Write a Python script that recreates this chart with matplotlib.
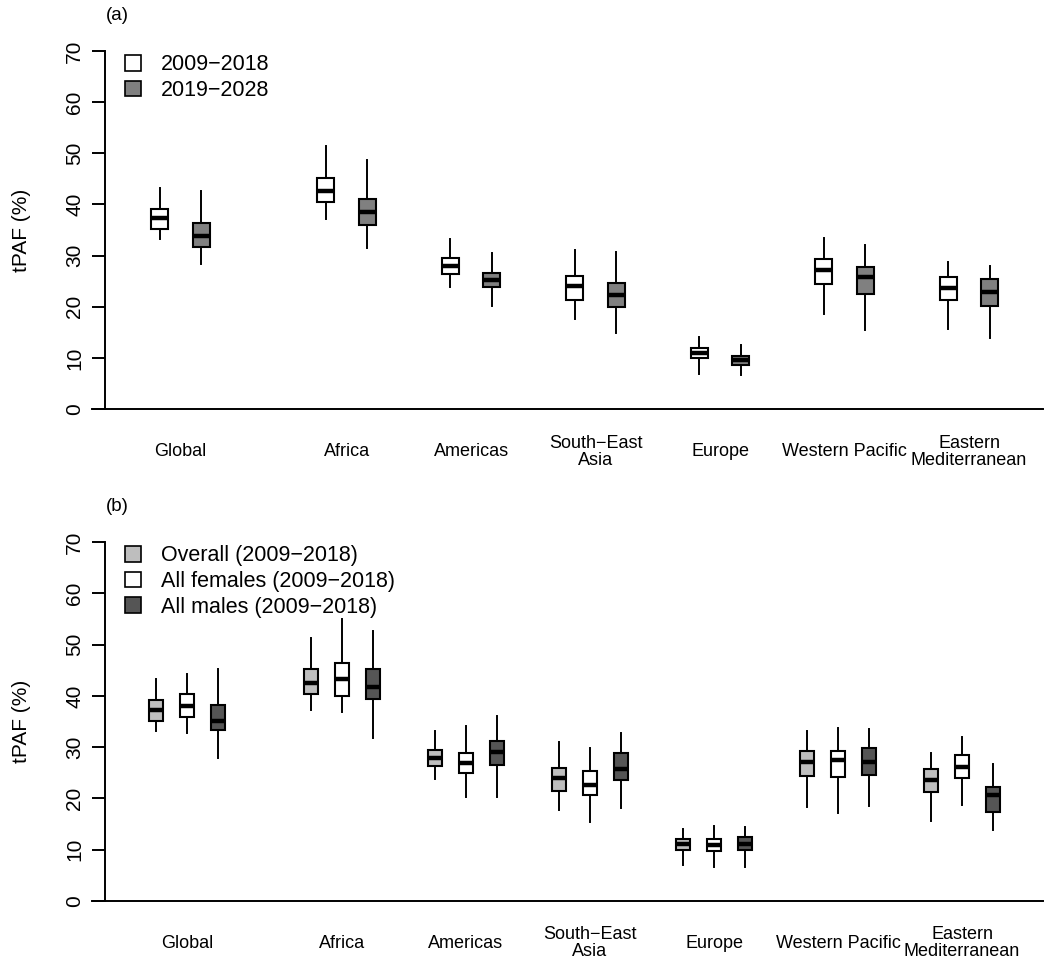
import matplotlib
matplotlib.use("Agg")
import matplotlib.pyplot as plt
from matplotlib.patches import Patch

plt.rcParams['font.family'] = ['Liberation Sans', 'DejaVu Sans']

regions = ["Global", "Africa", "Americas", "South\u2212East\nAsia", "Europe",
           "Western Pacific", "Eastern\nMediterranean"]

# panel (a): whisker low, q1, median, q3, whisker high
a_lo_2009 = [33.3, 37.2, 23.9, 17.6, 6.8, 18.6, 15.6]
a_q1_2009 = [35.2, 40.5, 26.4, 21.3, 10.0, 24.4, 21.3]
a_md_2009 = [37.3, 42.6, 28.0, 24.0, 11.0, 27.2, 23.6]
a_q3_2009 = [39.1, 45.2, 29.5, 26.0, 11.9, 29.3, 25.9]
a_hi_2009 = [43.2, 51.4, 33.2, 31.1, 14.1, 33.4, 28.8]

a_lo_2019 = [28.4, 31.5, 20.1, 14.9, 6.6, 15.4, 13.9]
a_q1_2019 = [31.7, 36.0, 23.9, 19.9, 8.6, 22.5, 20.1]
a_md_2019 = [33.8, 38.5, 25.2, 22.3, 9.6, 25.8, 22.9]
a_q3_2019 = [36.4, 41.1, 26.6, 24.6, 10.4, 27.8, 25.4]
a_hi_2019 = [42.6, 48.7, 30.5, 30.7, 12.5, 32.1, 28.0]

# panel (b)
b_lo_all = [33.2, 37.2, 23.8, 17.7, 7.0, 18.4, 15.7]
b_q1_all = [35.1, 40.4, 26.3, 21.5, 10.0, 24.4, 21.3]
b_md_all = [37.3, 42.6, 27.9, 23.9, 11.1, 27.2, 23.6]
b_q3_all = [39.2, 45.2, 29.5, 26.0, 12.1, 29.2, 25.8]
b_hi_all = [43.3, 51.2, 33.2, 31.1, 14.0, 33.2, 28.9]

b_lo_fem = [32.7, 36.8, 20.2, 15.5, 6.6, 17.1, 18.8]
b_q1_fem = [35.8, 40.0, 24.9, 20.7, 9.7, 24.2, 24.0]
b_md_fem = [38.1, 43.2, 26.9, 22.7, 11.0, 27.5, 26.1]
b_q3_fem = [40.4, 46.5, 28.8, 25.4, 12.1, 29.3, 28.4]
b_hi_fem = [44.2, 54.9, 34.2, 29.8, 14.7, 33.8, 32.0]

b_lo_mal = [27.8, 31.7, 20.2, 18.1, 6.7, 18.6, 13.8]
b_q1_mal = [33.3, 39.4, 26.5, 23.6, 10.0, 24.5, 17.4]
b_md_mal = [35.1, 41.8, 29.0, 25.8, 11.2, 27.2, 20.7]
b_q3_mal = [38.2, 45.2, 31.2, 28.8, 12.4, 29.8, 22.2]
b_hi_mal = [45.2, 52.7, 36.1, 32.7, 14.4, 33.6, 26.8]


def make_stats(lo, q1, md, q3, hi):
    return [dict(whislo=l, q1=a, med=m, q3=b, whishi=h)
            for l, a, m, b, h in zip(lo, q1, md, q3, hi)]


def style_axis(ax, letter):
    for s in ["top", "right", "bottom"]:
        ax.spines[s].set_visible(False)
    ax.spines["left"].set_bounds(0, 70)
    ax.spines["left"].set_linewidth(1.4)
    ax.set_ylim(0, 70)
    ax.set_yticks(range(0, 71, 10))
    ax.tick_params(axis="y", length=9.5, width=1.4, labelsize=15, pad=5.5)
    for lab in ax.get_yticklabels():
        lab.set_rotation(90)
        lab.set_va("center")
    ax.set_xticks([])
    ax.set_ylabel("tPAF (%)", fontsize=15)
    ax.yaxis.set_label_coords(-0.079, 0.5)
    ax.plot([-0.014, 1], [0, 0], color="black", lw=1.4,
            transform=ax.get_yaxis_transform(), clip_on=False)
    ax.text(0.013, 1.1, letter, transform=ax.transAxes, fontsize=13.5,
            ha="center", va="center")


def draw(ax, stats, pos, color, width):
    ax.bxp(stats, positions=pos, widths=width, showcaps=False, showfliers=False,
           patch_artist=True,
           boxprops=dict(facecolor=color, edgecolor="black", linewidth=1.5),
           whiskerprops=dict(color="black", linewidth=1.4),
           medianprops=dict(color="black", linewidth=3.2, solid_capstyle="butt"))


fig = plt.figure(figsize=(10.5, 9.65), dpi=100)

# ---- panel (a)
ax1 = fig.add_axes([0.1, 0.5762, 0.8933, 0.371])
base_a = [1, 5, 8, 11, 14, 17, 20]
draw(ax1, make_stats(a_lo_2009, a_q1_2009, a_md_2009, a_q3_2009, a_hi_2009),
     base_a, "white", 0.41)
draw(ax1, make_stats(a_lo_2019, a_q1_2019, a_md_2019, a_q3_2019, a_hi_2019),
     [p + 1 for p in base_a], "#808080", 0.41)
ax1.set_xlim(-0.325, 22.28)
style_axis(ax1, "(a)")
for p, name in zip(base_a, regions):
    ax1.text(p + 0.5, -8.4, name, ha="center", va="center", fontsize=13,
             linespacing=0.95, clip_on=False)
ax1.legend(handles=[Patch(facecolor="white", edgecolor="black", lw=1.2),
                    Patch(facecolor="#808080", edgecolor="black", lw=1.2)],
           labels=["2009\u22122018", "2019\u22122028"],
           loc="upper left", bbox_to_anchor=(0.001, 1.045), frameon=False,
           fontsize=15.5, handlelength=0.75, handleheight=0.75,
           handletextpad=0.9, labelspacing=0.22)

# ---- panel (b)
ax2 = fig.add_axes([0.1, 0.0663, 0.8933, 0.372])
base_b = [1, 6, 10, 14, 18, 22, 26]
draw(ax2, make_stats(b_lo_all, b_q1_all, b_md_all, b_q3_all, b_hi_all),
     base_b, "#bebebe", 0.43)
draw(ax2, make_stats(b_lo_fem, b_q1_fem, b_md_fem, b_q3_fem, b_hi_fem),
     [p + 1 for p in base_b], "white", 0.43)
draw(ax2, make_stats(b_lo_mal, b_q1_mal, b_md_mal, b_q3_mal, b_hi_mal),
     [p + 2 for p in base_b], "#555555", 0.43)
ax2.set_xlim(-0.645, 29.61)
style_axis(ax2, "(b)")
for p, name in zip(base_b, regions):
    ax2.text(p + 1, -8.2, name, ha="center", va="center", fontsize=13,
             linespacing=0.95, clip_on=False)
ax2.legend(handles=[Patch(facecolor="#bebebe", edgecolor="black", lw=1.2),
                    Patch(facecolor="white", edgecolor="black", lw=1.2),
                    Patch(facecolor="#555555", edgecolor="black", lw=1.2)],
           labels=["Overall (2009\u22122018)", "All females (2009\u22122018)",
                   "All males (2009\u22122018)"],
           loc="upper left", bbox_to_anchor=(0.001, 1.045), frameon=False,
           fontsize=15.5, handlelength=0.75, handleheight=0.75,
           handletextpad=0.9, labelspacing=0.22)

fig.savefig("out.png", dpi=100)
